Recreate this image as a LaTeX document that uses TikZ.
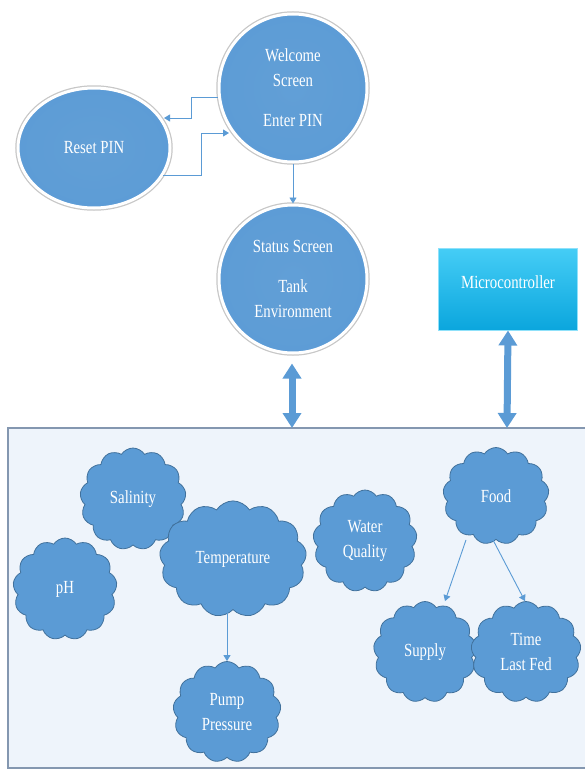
\documentclass[tikz,border=0pt]{standalone}
\usepackage{fontspec}
\newfontfamily\dfont[FakeStretch=0.8]{Liberation Serif}
\usetikzlibrary{shapes.geometric,shapes.symbols,arrows.meta,shadows,calc}
\definecolor{obl}{HTML}{5B9BD5}
\definecolor{oblD}{HTML}{41719C}
\definecolor{tankfill}{HTML}{EEF4FB}
\definecolor{tankline}{HTML}{8497B0}
\definecolor{cyanT}{HTML}{45CDF6}
\definecolor{cyanB}{HTML}{0BA6DD}
\pgfdeclareradialshading{bubshade}{\pgfpoint{0bp}{0bp}}{color(0bp)=(obl!96!white); color(36bp)=(obl); color(50bp)=(obl!82!black); color(100bp)=(obl!82!black)}
\begin{document}
\begin{tikzpicture}[x=1pt,y=-1pt,
  txt/.style={font=\dfont\fontsize{18.5}{25}\selectfont, text=white, align=center},
  ring/.style={preaction={draw=black!22, line width=5.5pt}, shading=bubshade,
     draw=white, line width=3pt, inner sep=0pt},
  bubble/.style={txt, circle, ring},
  oval/.style={txt, ellipse, ring},
  puff/.style={txt, cloud, cloud puffs=13, cloud puff arc=115, fill=obl, draw=oblD,
     line width=0.8pt, inner sep=0pt},
  conn/.style={draw=obl, line width=0.9pt, -{Triangle[width=7pt,length=6pt]}},
  fat/.style={draw=obl, line width=7pt,
     {Triangle[width=18pt,length=15pt]}-{Triangle[width=18pt,length=15pt]}}
]
\useasboundingbox (0,0) rectangle (584,771);

% tank area
\path[fill=tankfill, draw=tankline, line width=1.2pt] (8,428) rectangle (600,768);
\coordinate (t1) at (292,428);
\coordinate (t2) at (507,428);

% screens
\node[bubble, minimum size=148pt] (welcome) at (293,88) {Welcome\\Screen\\[15pt]Enter PIN};
\node[oval, minimum width=152pt, minimum height=120pt] (reset) at (94,148) {Reset PIN};
\node[bubble, minimum size=148pt] (status) at (293,279) {Status Screen\\[15pt]Tank\\Environment};
\node[txt, rectangle, draw=cyanT!60!white, line width=1pt, top color=cyanT, bottom color=cyanB,
      minimum width=139pt, minimum height=82pt, text depth=14pt] (micro) at (508,289) {Microcontroller};

% reset connectors
\coordinate (r1) at (164,118);
\coordinate (w1) at (229,133);
\draw[conn] (welcome.187) -| (191,118) -- (r1);
\draw[conn] (reset.-22) -| (201,133) -- (w1);
\draw[conn] (welcome.south) -- (status.north);

% double arrows
\draw[fat] ($(status.south)+(-1,9)$) -- (t1);
\draw[fat] (micro.south) -- (t2);

% clouds
\node[puff, minimum width=106pt, minimum height=102pt] (sal) at (133,499) {Salinity};
\node[puff, minimum width=104pt, minimum height=102pt] (ph) at (65,589) {pH};
\node[puff, minimum width=147pt, minimum height=102pt] (temp) at (233,559) {Temperature};
\node[puff, minimum width=104pt, minimum height=102pt] (water) at (365,541) {Water\\Quality};
\node[puff, minimum width=106pt, minimum height=97pt] (food) at (496,496) {Food};
\node[puff, minimum width=103pt, minimum height=101pt] (supply) at (425,652) {Supply};
\node[puff, minimum width=110pt, minimum height=101pt] (time) at (526,652) {Time\\Last Fed};
\node[puff, minimum width=108pt, minimum height=101pt] (pump) at (227,712) {Pump\\Pressure};

\draw[conn] (temp.south -| pump.north) -- (pump.north);
\draw[conn] ($(food.south)+(-30,0)$) -- ($(supply.north)+(20,0)$);
\draw[conn] ($(food.south)+(-3,0)$) -- ($(time.north)+(-1,0)$);
\end{tikzpicture}
\end{document}
